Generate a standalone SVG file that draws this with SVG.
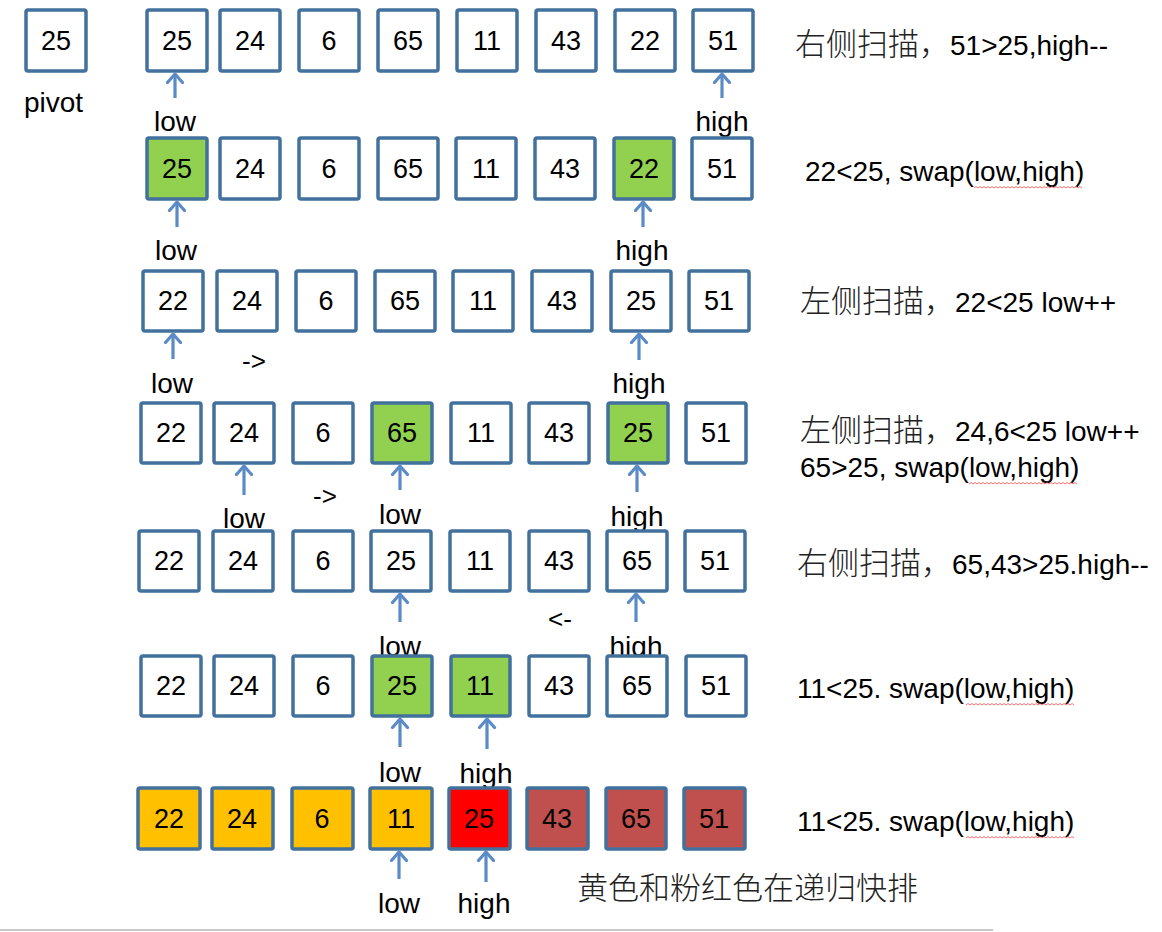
<svg xmlns="http://www.w3.org/2000/svg" xmlns:xlink="http://www.w3.org/1999/xlink" width="1162" height="932" viewBox="0 0 1162 932">
<style>
.b{fill:#fff;stroke:#41719C;stroke-width:3.5}
.b.g{fill:#92D050}.b.y{fill:#FFC000}.b.r{fill:#FF0000}.b.p{fill:#C0504D}
.n{font-family:"Liberation Sans",Arial,sans-serif;font-size:27px;fill:#000;text-anchor:middle}
.l{font-family:"Liberation Sans",Arial,sans-serif;font-size:28px;fill:#000;text-anchor:middle}
.s{font-family:"Liberation Sans",Arial,sans-serif;font-size:26px;fill:#000;text-anchor:middle}
.t{font-family:"Liberation Sans","Noto Sans CJK SC",sans-serif;font-size:28px;fill:#000}
.c{font-family:"Noto Sans CJK SC",sans-serif;font-size:31px;font-weight:300;fill:#222}
.a{stroke:#5B8BC6;stroke-width:3.2;fill:none;marker-end:url(#ah)}
.q{stroke:#FF4040;stroke-width:1;fill:none;opacity:0.75}
</style>
<defs>
<marker id="ah" markerWidth="20" markerHeight="20" refX="10" refY="10" orient="auto" markerUnits="userSpaceOnUse" viewBox="0 0 20 20">
<path d="M1.5,2.5 L10,10 L1.5,17.5" fill="none" stroke="#5B8BC6" stroke-width="3.2" stroke-linecap="round" stroke-linejoin="round"/>
</marker>
<path id="sq" d="M0,0 l2,-1.5 l2,1.5 l2,-1.5 l2,1.5 l2,-1.5 l2,1.5 l2,-1.5 l2,1.5 l2,-1.5 l2,1.5 l2,-1.5 l2,1.5 l2,-1.5 l2,1.5 l2,-1.5 l2,1.5 l2,-1.5 l2,1.5 l2,-1.5 l2,1.5 l2,-1.5 l2,1.5 l2,-1.5 l2,1.5 l2,-1.5 l2,1.5 l2,-1.5 l2,1.5 l2,-1.5 l2,1.5 l2,-1.5 l2,1.5 l2,-1.5 l2,1.5 l2,-1.5 l2,1.5 l2,-1.5 l2,1.5 l2,-1.5 l2,1.5 l2,-1.5 l2,1.5 l2,-1.5 l2,1.5 l2,-1.5 l2,1.5 l2,-1.5 l2,1.5 l2,-1.5 l2,1.5 l2,-1.5 l2,1.5 l2,-1.5 l2,1.5"/>
</defs>
<rect width="1162" height="932" fill="#fff"/>

<g id="labels">
<text class="l" x="24" y="112" style="text-anchor:start">pivot</text>
<text class="l" x="175" y="131">low</text>
<text class="l" x="722" y="131">high</text>
<text class="l" x="176" y="260">low</text>
<text class="l" x="642" y="260">high</text>
<text class="l" x="172" y="393">low</text>
<text class="l" x="639" y="393">high</text>
<text class="s" x="254" y="370">-&gt;</text>
<text class="l" x="244" y="528">low</text>
<text class="l" x="400" y="524">low</text>
<text class="l" x="637" y="526">high</text>
<text class="s" x="325" y="505">-&gt;</text>
<text class="l" x="400" y="656">low</text>
<text class="l" x="636" y="656">high</text>
<text class="s" x="560" y="628">&lt;-</text>
<text class="l" x="400" y="782">low</text>
<text class="l" x="486" y="783">high</text>
<text class="l" x="399" y="913">low</text>
<text class="l" x="484" y="913">high</text>
</g>

<g id="pivot"><rect class="b" x="26" y="10" width="60" height="61" rx="2"/><text class="n" x="56" y="50">25</text></g>

<g id="r1c1"><rect class="b" x="147" y="10" width="60" height="61" rx="2"/><text class="n" x="177" y="50">25</text></g>
<g id="r1c2"><rect class="b" x="220" y="10" width="60" height="61" rx="2"/><text class="n" x="250" y="50">24</text></g>
<g id="r1c3"><rect class="b" x="299" y="10" width="60" height="61" rx="2"/><text class="n" x="329" y="50">6</text></g>
<g id="r1c4"><rect class="b" x="378" y="10" width="60" height="61" rx="2"/><text class="n" x="408" y="50">65</text></g>
<g id="r1c5"><rect class="b" x="457" y="10" width="60" height="61" rx="2"/><text class="n" x="487" y="50">11</text></g>
<g id="r1c6"><rect class="b" x="536" y="10" width="60" height="61" rx="2"/><text class="n" x="566" y="50">43</text></g>
<g id="r1c7"><rect class="b" x="615" y="10" width="60" height="61" rx="2"/><text class="n" x="645" y="50">22</text></g>
<g id="r1c8"><rect class="b" x="693" y="10" width="60" height="61" rx="2"/><text class="n" x="723" y="50">51</text></g>

<g id="r2c1"><rect class="b g" x="147" y="138" width="60" height="61" rx="2"/><text class="n" x="177" y="178">25</text></g>
<g id="r2c2"><rect class="b" x="220" y="138" width="60" height="61" rx="2"/><text class="n" x="250" y="178">24</text></g>
<g id="r2c3"><rect class="b" x="299" y="138" width="60" height="61" rx="2"/><text class="n" x="329" y="178">6</text></g>
<g id="r2c4"><rect class="b" x="378" y="138" width="60" height="61" rx="2"/><text class="n" x="408" y="178">65</text></g>
<g id="r2c5"><rect class="b" x="456" y="138" width="60" height="61" rx="2"/><text class="n" x="486" y="178">11</text></g>
<g id="r2c6"><rect class="b" x="535" y="138" width="60" height="61" rx="2"/><text class="n" x="565" y="178">43</text></g>
<g id="r2c7"><rect class="b g" x="614" y="138" width="60" height="61" rx="2"/><text class="n" x="644" y="178">22</text></g>
<g id="r2c8"><rect class="b" x="692" y="138" width="60" height="61" rx="2"/><text class="n" x="722" y="178">51</text></g>

<g id="r3c1"><rect class="b" x="143" y="271" width="60" height="60" rx="2"/><text class="n" x="173" y="310">22</text></g>
<g id="r3c2"><rect class="b" x="217" y="271" width="60" height="60" rx="2"/><text class="n" x="247" y="310">24</text></g>
<g id="r3c3"><rect class="b" x="296" y="271" width="60" height="60" rx="2"/><text class="n" x="326" y="310">6</text></g>
<g id="r3c4"><rect class="b" x="375" y="271" width="60" height="60" rx="2"/><text class="n" x="405" y="310">65</text></g>
<g id="r3c5"><rect class="b" x="453" y="271" width="60" height="60" rx="2"/><text class="n" x="483" y="310">11</text></g>
<g id="r3c6"><rect class="b" x="532" y="271" width="60" height="60" rx="2"/><text class="n" x="562" y="310">43</text></g>
<g id="r3c7"><rect class="b" x="611" y="271" width="60" height="60" rx="2"/><text class="n" x="641" y="310">25</text></g>
<g id="r3c8"><rect class="b" x="689" y="271" width="60" height="60" rx="2"/><text class="n" x="719" y="310">51</text></g>

<g id="r4c1"><rect class="b" x="141" y="403" width="60" height="60" rx="2"/><text class="n" x="171" y="442">22</text></g>
<g id="r4c2"><rect class="b" x="214" y="403" width="60" height="60" rx="2"/><text class="n" x="244" y="442">24</text></g>
<g id="r4c3"><rect class="b" x="293" y="403" width="60" height="60" rx="2"/><text class="n" x="323" y="442">6</text></g>
<g id="r4c4"><rect class="b g" x="372" y="403" width="60" height="60" rx="2"/><text class="n" x="402" y="442">65</text></g>
<g id="r4c5"><rect class="b" x="451" y="403" width="60" height="60" rx="2"/><text class="n" x="481" y="442">11</text></g>
<g id="r4c6"><rect class="b" x="529" y="403" width="60" height="60" rx="2"/><text class="n" x="559" y="442">43</text></g>
<g id="r4c7"><rect class="b g" x="608" y="403" width="60" height="60" rx="2"/><text class="n" x="638" y="442">25</text></g>
<g id="r4c8"><rect class="b" x="686" y="403" width="60" height="60" rx="2"/><text class="n" x="716" y="442">51</text></g>

<g id="r5c1"><rect class="b" x="139" y="531" width="60" height="60" rx="2"/><text class="n" x="169" y="570">22</text></g>
<g id="r5c2"><rect class="b" x="213" y="531" width="60" height="60" rx="2"/><text class="n" x="243" y="570">24</text></g>
<g id="r5c3"><rect class="b" x="293" y="531" width="60" height="60" rx="2"/><text class="n" x="323" y="570">6</text></g>
<g id="r5c4"><rect class="b" x="371" y="531" width="60" height="60" rx="2"/><text class="n" x="401" y="570">25</text></g>
<g id="r5c5"><rect class="b" x="450" y="531" width="60" height="60" rx="2"/><text class="n" x="480" y="570">11</text></g>
<g id="r5c6"><rect class="b" x="529" y="531" width="60" height="60" rx="2"/><text class="n" x="559" y="570">43</text></g>
<g id="r5c7"><rect class="b" x="607" y="531" width="60" height="60" rx="2"/><text class="n" x="637" y="570">65</text></g>
<g id="r5c8"><rect class="b" x="685" y="531" width="60" height="60" rx="2"/><text class="n" x="715" y="570">51</text></g>

<g id="r6c1"><rect class="b" x="141" y="656" width="60" height="60" rx="2"/><text class="n" x="171" y="695">22</text></g>
<g id="r6c2"><rect class="b" x="214" y="656" width="60" height="60" rx="2"/><text class="n" x="244" y="695">24</text></g>
<g id="r6c3"><rect class="b" x="293" y="656" width="60" height="60" rx="2"/><text class="n" x="323" y="695">6</text></g>
<g id="r6c4"><rect class="b g" x="372" y="656" width="60" height="60" rx="2"/><text class="n" x="402" y="695">25</text></g>
<g id="r6c5"><rect class="b g" x="451" y="656" width="59" height="60" rx="2"/><text class="n" x="480" y="695">11</text></g>
<g id="r6c6"><rect class="b" x="529" y="656" width="60" height="60" rx="2"/><text class="n" x="559" y="695">43</text></g>
<g id="r6c7"><rect class="b" x="607" y="656" width="60" height="60" rx="2"/><text class="n" x="637" y="695">65</text></g>
<g id="r6c8"><rect class="b" x="686" y="656" width="60" height="60" rx="2"/><text class="n" x="716" y="695">51</text></g>

<g id="r7c1"><rect class="b y" x="138" y="788" width="62" height="61" rx="2"/><text class="n" x="169" y="828">22</text></g>
<g id="r7c2"><rect class="b y" x="212" y="788" width="61" height="61" rx="2"/><text class="n" x="242" y="828">24</text></g>
<g id="r7c3"><rect class="b y" x="292" y="788" width="61" height="61" rx="2"/><text class="n" x="322" y="828">6</text></g>
<g id="r7c4"><rect class="b y" x="370" y="788" width="62" height="61" rx="2"/><text class="n" x="401" y="828">11</text></g>
<g id="r7c5"><rect class="b r" x="449" y="788" width="61" height="61" rx="2"/><text class="n" x="479" y="828">25</text></g>
<g id="r7c6"><rect class="b p" x="527" y="788" width="61" height="61" rx="2"/><text class="n" x="557" y="828">43</text></g>
<g id="r7c7"><rect class="b p" x="606" y="788" width="60" height="61" rx="2"/><text class="n" x="636" y="828">65</text></g>
<g id="r7c8"><rect class="b p" x="684" y="788" width="61" height="61" rx="2"/><text class="n" x="714" y="828">51</text></g>

<g id="connectors">
<path class="a" d="M175,98 L175,74"/>
<path class="a" d="M722,98 L722,74"/>
<path class="a" d="M177,227 L177,202"/>
<path class="a" d="M643,227 L643,202"/>
<path class="a" d="M173,359 L173,334"/>
<path class="a" d="M639,360 L639,334"/>
<path class="a" d="M244,495 L244,466"/>
<path class="a" d="M400,490 L400,466"/>
<path class="a" d="M637,492 L637,466"/>
<path class="a" d="M400,622 L400,594"/>
<path class="a" d="M636,622 L636,594"/>
<path class="a" d="M400,747 L400,719"/>
<path class="a" d="M487,749 L487,719"/>
<path class="a" d="M399,879 L399,852"/>
<path class="a" d="M486,882 L486,852"/>
</g>

<g id="notes">
<text class="t" x="795" y="55"><tspan class="c">右侧扫描，</tspan>51&gt;25,high--</text>
<text class="t" x="805" y="181">22&lt;25, swap(low,high)</text>
<text class="t" x="800" y="312"><tspan class="c">左侧扫描，</tspan>22&lt;25 low++</text>
<text class="t" x="800" y="441"><tspan class="c">左侧扫描，</tspan>24,6&lt;25 low++</text>
<text class="t" x="800" y="477">65&gt;25, swap(low,high)</text>
<text class="t" x="797" y="574"><tspan class="c">右侧扫描，</tspan>65,43&gt;25.high--</text>
<text class="t" x="797" y="698">11&lt;25. swap(low,high)</text>
<text class="t" x="797" y="831">11&lt;25. swap(low,high)</text>
<text class="c" x="577" y="899">黄色和粉红色在递归快排</text>
<use href="#sq" xlink:href="#sq" class="q" x="974" y="188"/>
<use href="#sq" xlink:href="#sq" class="q" x="969" y="484"/>
<use href="#sq" xlink:href="#sq" class="q" x="966" y="705"/>
<use href="#sq" xlink:href="#sq" class="q" x="966" y="838"/>
</g>

<line x1="0" y1="930" x2="993" y2="930" stroke="#C8C8C8" stroke-width="2"/>
</svg>
